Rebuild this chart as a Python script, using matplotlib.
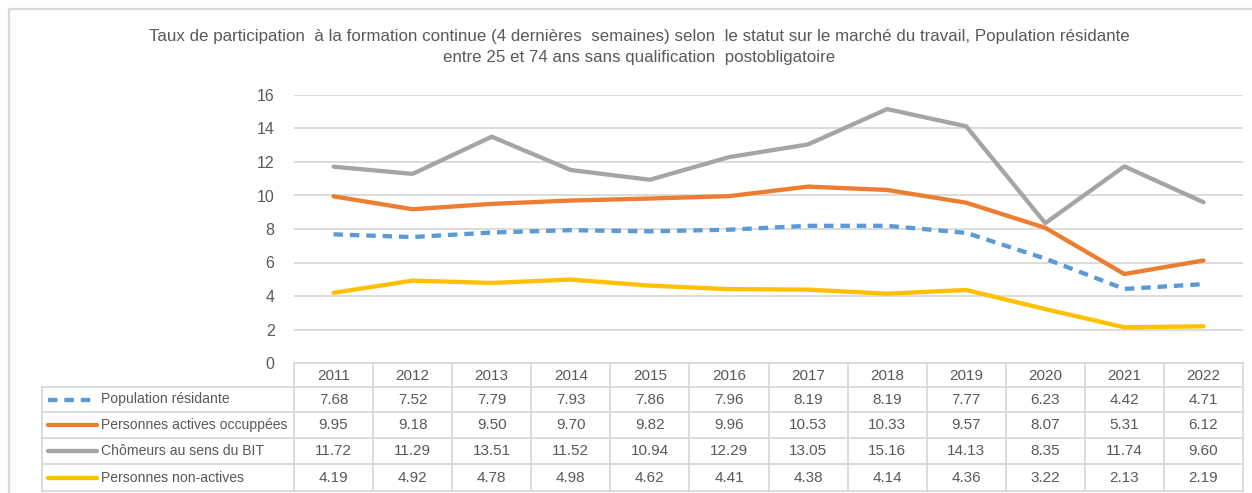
import matplotlib
matplotlib.use("Agg")
import matplotlib.pyplot as plt
from matplotlib.lines import Line2D

years = ["2011", "2012", "2013", "2014", "2015", "2016", "2017", "2018", "2019", "2020", "2021", "2022"]
population = [7.68, 7.52, 7.79, 7.93, 7.86, 7.96, 8.19, 8.19, 7.77, 6.23, 4.42, 4.71]
actives = [9.95, 9.18, 9.50, 9.70, 9.82, 9.96, 10.53, 10.33, 9.57, 8.07, 5.31, 6.12]
chomeurs = [11.72, 11.29, 13.51, 11.52, 10.94, 12.29, 13.05, 15.16, 14.13, 8.35, 11.74, 9.60]
nonactives = [4.19, 4.92, 4.78, 4.98, 4.62, 4.41, 4.38, 4.14, 4.36, 3.22, 2.13, 2.19]
labels = ["Population résidante", "Personnes actives occuppées", "Chômeurs au sens du BIT", "Personnes non-actives"]
title = ("Taux de participation  à la formation continue (4 dernières  semaines) selon  le statut sur le marché du travail, Population résidante\n"
         "entre 25 et 74 ans sans qualification  postobligatoire")
yticks = [0, 2, 4, 6, 8, 10, 12, 14, 16]

series = [population, actives, chomeurs, nonactives]
colors = ["#5B9BD5", "#ED7D31", "#A5A5A5", "#FFC000"]
styles = [(0, (2.2, 1.6)), "-", "-", "-"]

plt.rcParams["font.family"] = ["Liberation Sans", "DejaVu Sans"]
txt = "#595959"
grid = "#D9D9D9"

W, H = 1252, 493
fig = plt.figure(figsize=(W / 100, H / 100), dpi=100)

x0, x1 = 294, 1243
y_top, y_zero = 95, 363
ax = fig.add_axes([x0 / W, 1 - y_zero / H, (x1 - x0) / W, (y_zero - y_top) / H])
xs = list(range(len(years)))
for vals, c, ls in zip(series, colors, styles):
    ax.plot(xs, vals, color=c, lw=3.1, ls=ls, solid_capstyle="round", dash_capstyle="butt", zorder=3)
ax.set_xlim(-0.5, len(years) - 0.5)
ax.set_ylim(0, 16)
ax.set_yticks(yticks)
for t in yticks[1:]:
    ax.axhline(t, color=grid, lw=1.3, zorder=1)
ax.set_xticks([])
ax.tick_params(axis="y", length=0, pad=14, labelsize=11.5, labelcolor=txt)
for s in ax.spines.values():
    s.set_visible(False)
ax.patch.set_alpha(0)

ov = fig.add_axes([0, 0, 1, 1], zorder=5)
ov.set_xlim(0, W)
ov.set_ylim(H, 0)
ov.axis("off")
ov.patch.set_alpha(0)

ov.plot([9, 9, W + 5], [H + 5, 9, 9], color="#D9D9D9", lw=1.6)

ov.text(639, 47, title, ha="center", va="center", fontsize=12.2, color=txt, linespacing=1.5)

rows = [363, 387, 412, 438, 464, 491]
leg_left = 42
colw = (x1 - x0) / len(years)
lc = "#D9D9D9"
lw = 1.3
ov.plot([x0, x1], [rows[0], rows[0]], color=lc, lw=lw)
for r in rows[1:]:
    ov.plot([leg_left, x1], [r, r], color=lc, lw=lw)
ov.plot([leg_left, leg_left], [rows[1], rows[-1]], color=lc, lw=lw)
for i in range(len(years) + 1):
    xx = x0 + i * colw
    ov.plot([xx, xx], [rows[0], rows[-1]], color=lc, lw=lw)
for i, y in enumerate(years):
    ov.text(x0 + (i + 0.5) * colw, (rows[0] + rows[1]) / 2 + 1, y, ha="center", va="center",
            fontsize=11, color=txt)
for k, (vals, c, ls, lab) in enumerate(zip(series, colors, styles, labels)):
    yc = (rows[k + 1] + rows[k + 2]) / 2
    ov.add_line(Line2D([48, 97], [yc, yc], color=c, lw=3.1, ls=ls, solid_capstyle="round"))
    ov.text(101, yc, lab, ha="left", va="center", fontsize=10.1, color=txt)
    for i, v in enumerate(vals):
        ov.text(x0 + (i + 0.5) * colw, yc, f"{v:.2f}", ha="center", va="center", fontsize=11, color=txt)

fig.savefig("out.png", dpi=100)
